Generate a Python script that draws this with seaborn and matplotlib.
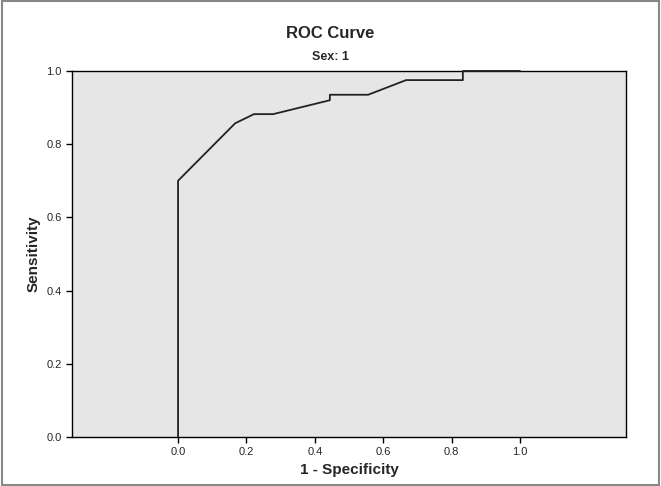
import matplotlib
matplotlib.use("Agg")
import matplotlib.pyplot as plt
import seaborn as sns
import pandas as pd

# ROC points
fpr = [0.0, 0.0, 0.167, 0.222, 0.278, 0.444, 0.444, 0.556, 0.667, 0.833, 0.833, 1.0]
tpr = [0.0, 0.70, 0.857, 0.882, 0.882, 0.92, 0.935, 0.935, 0.975, 0.975, 1.0, 1.0]
ticks = [0.0, 0.2, 0.4, 0.6, 0.8, 1.0]

sns.set_style("white")
plt.rcParams['font.family'] = ['Liberation Sans', 'DejaVu Sans']

fig = plt.figure(figsize=(6.61, 4.86), dpi=100)
ax = fig.add_axes([0.109, 0.101, 0.838, 0.753])
ax.set_facecolor("#e6e6e6")

df = pd.DataFrame({"fpr": fpr, "tpr": tpr})
sns.lineplot(x="fpr", y="tpr", data=df, ax=ax, sort=False, estimator=None,
             color="#222222", linewidth=1.3, clip_on=False, zorder=5)

ax.set_xlim(-0.31, 1.31)
ax.set_ylim(0, 1.0)
ax.set_xticks(ticks)
ax.set_yticks(ticks)
ax.set_xticklabels([f"{t:.1f}" for t in ticks], fontsize=8)
ax.set_yticklabels([f"{t:.1f}" for t in ticks], fontsize=8)
ax.tick_params(direction="out", length=4, width=1, color="black", left=True, bottom=True)
for s in ax.spines.values():
    s.set_color("black")
    s.set_linewidth(1)

ax.set_xlabel("1 - Specificity", fontsize=11, fontweight="bold")
ax.set_ylabel("Sensitivity", fontsize=11, fontweight="bold")
fig.text(0.5, 0.932, "ROC Curve", ha="center", va="center", fontsize=12, fontweight="bold")
fig.text(0.5, 0.883, "Sex: 1", ha="center", va="center", fontsize=9, fontweight="bold")

fig.patches.append(plt.Rectangle((0.003, 0.003), 0.994, 0.994, transform=fig.transFigure,
                                 fill=False, edgecolor="#888888", linewidth=1.5))

fig.savefig("out.png", dpi=100)
